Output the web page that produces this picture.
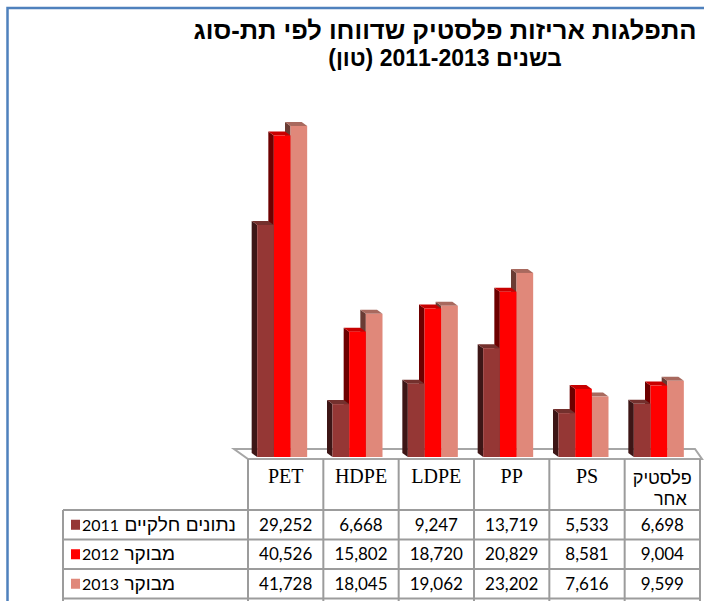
<!DOCTYPE html>
<html>
<head>
<meta charset="utf-8">
<script src="https://cdn.jsdelivr.net/npm/d3@7"></script>
<style>
  body { margin: 0; background: #fff; }
  svg { display: block; }
</style>
</head>
<body>
<div id="chart"></div>
<script>
// data
var titleLines = ['התפלגות אריזות פלסטיק שדווחו לפי תת-סוג', 'בשנים  2011-2013 (טון)']
var categories = ['PET', 'HDPE', 'LDPE', 'PP', 'PS', 'פלסטיק אחר']
var seriesNames = ['נתונים חלקיים 2011', 'מבוקר 2012', 'מבוקר 2013']
var values2011 = [29252, 6668, 9247, 13719, 5533, 6698]
var values2012 = [40526, 15802, 18720, 20829, 8581, 9004]
var values2013 = [41728, 18045, 19062, 23202, 7616, 9599]
var seriesValues = [values2011, values2012, values2013]

var colors = [
  { front: '#953735', side: '#3d1616', top: '#74302d' },
  { front: '#ff0000', side: '#6e0000', top: '#c80000' },
  { front: '#e0887a', side: '#6a3c34', top: '#a8695e' },
]

var width = 704
var height = 601
var base = 457
var depthX = -5.5
var depthY = -4

var svg = d3
  .select('#chart')
  .append('svg')
  .attr('width', width)
  .attr('height', height)

// blue frame (open to the right and bottom)
svg
  .append('path')
  .attr('d', 'M7.5,' + (height + 5) + ' L7.5,8 L' + (width + 5) + ',8')
  .attr('fill', 'none')
  .attr('stroke', '#4f81bd')
  .attr('stroke-width', 2.5)

// title
var titleSizes = [25.5, 23]
svg
  .selectAll('.title')
  .data(titleLines)
  .enter()
  .append('text')
  .attr('class', 'title')
  .attr('x', 445)
  .attr('y', function(d, i) {
    return 39 + i * 27
  })
  .attr('direction', 'rtl')
  .attr('text-anchor', 'middle')
  .style('font-family', '"Liberation Sans", "DejaVu Sans", sans-serif')
  .style('font-weight', 'bold')
  .style('font-size', function(d, i) {
    return titleSizes[i] + 'px'
  })
  .text(function(d) {
    return d
  })

var x = d3
  .scaleBand()
  .domain(categories)
  .range([248, 700])

var inner = d3
  .scaleBand()
  .domain(d3.range(seriesNames.length))
  .range([0, 50])

var y = d3
  .scaleLinear()
  .domain([0, 45000])
  .range([base, base - 357])

var groupOffset = (x.bandwidth() - 50) / 2 - 3.5

// floor
var floorFront = 459
var floorBack = 449
svg
  .append('path')
  .attr(
    'd',
    'M' + (x.range()[0] - 14) + ',' + floorBack +
      ' L' + (x.range()[1] - 5) + ',' + floorBack +
      ' L' + (x.range()[1] + 2) + ',' + floorFront +
      ' L' + x.range()[0] + ',' + floorFront + ' Z'
  )
  .attr('fill', '#fff')
  .attr('stroke', '#a6a6a6')
  .attr('stroke-width', 2)

// bars, drawn right to left so the left faces tuck behind
var bars = []
categories.forEach(function(cat, ci) {
  for (var s = seriesNames.length - 1; s >= 0; s--) {
    bars.push({ cat: cat, s: s, value: seriesValues[s][ci] })
  }
})

var barG = svg
  .selectAll('.bar')
  .data(bars)
  .enter()
  .append('g')
  .attr('class', 'bar')

function bx(d) {
  return x(d.cat) + groupOffset + inner(d.s)
}

barG
  .append('path')
  .attr('d', function(d) {
    var l = bx(d)
    var t = y(d.value)
    return 'M' + l + ',' + t + ' L' + (l + depthX) + ',' + (t + depthY) +
      ' L' + (l + depthX) + ',' + (base + depthY) + ' L' + l + ',' + base + ' Z'
  })
  .attr('fill', function(d) {
    return colors[d.s].side
  })

barG
  .append('path')
  .attr('d', function(d) {
    var l = bx(d)
    var r = l + inner.bandwidth()
    var t = y(d.value)
    return 'M' + l + ',' + t + ' L' + r + ',' + t + ' L' + (r + depthX) + ',' + (t + depthY) +
      ' L' + (l + depthX) + ',' + (t + depthY) + ' Z'
  })
  .attr('fill', function(d) {
    return colors[d.s].top
  })

barG
  .append('rect')
  .attr('x', bx)
  .attr('y', function(d) {
    return y(d.value)
  })
  .attr('width', inner.bandwidth())
  .attr('height', function(d) {
    return base - y(d.value)
  })
  .attr('fill', function(d) {
    return colors[d.s].front
  })

// table
var headerTop = 459
var rowTops = [510, 539.5, 569, 598.5]
var tableLeft = 63
var grid = svg.append('g').attr('stroke', '#9c9c9c').attr('stroke-width', 2)

var colEdges = categories.map(function(c) {
  return x(c)
})
colEdges.push(x.range()[1])

colEdges.forEach(function(cx) {
  grid
    .append('line')
    .attr('x1', cx)
    .attr('x2', cx)
    .attr('y1', headerTop)
    .attr('y2', height)
})
grid
  .append('line')
  .attr('x1', tableLeft)
  .attr('x2', tableLeft)
  .attr('y1', rowTops[0])
  .attr('y2', height)
rowTops.forEach(function(ry) {
  grid
    .append('line')
    .attr('x1', tableLeft)
    .attr('x2', x.range()[1])
    .attr('y1', ry)
    .attr('y2', ry)
})

// header labels
categories.forEach(function(cat, i) {
  var cx = x(cat) + x.bandwidth() / 2
  if (/[A-Z]/.test(cat)) {
    svg
      .append('text')
      .attr('x', cx)
      .attr('y', 483)
      .attr('text-anchor', 'middle')
      .style('font-family', '"Liberation Serif", "DejaVu Serif", serif')
      .style('font-size', '20px')
      .text(cat)
  } else {
    var words = cat.split(' ')
    words.forEach(function(w, wi) {
      svg
        .append('text')
        .attr('x', cx + wi * 8)
        .attr('y', 484 + wi * 21)
        .attr('direction', 'rtl')
        .attr('text-anchor', 'middle')
        .style('font-family', '"Liberation Sans", "DejaVu Sans", sans-serif')
        .style('font-size', '18px')
        .text(w)
    })
  }
})

// row labels with legend keys
seriesNames.forEach(function(name, s) {
  var mid = (rowTops[s] + rowTops[s + 1]) / 2
  svg
    .append('rect')
    .attr('x', 71)
    .attr('y', mid - 5)
    .attr('width', 9)
    .attr('height', 10)
    .attr('fill', colors[s].front)

  // hebrew words a bit larger than the year, as in the original
  var m = name.match(/^(.*?)(\d+)$/)
  var label = svg
    .append('text')
    .attr('x', 82)
    .attr('y', mid + 6)
    .attr('direction', 'rtl')
    .attr('text-anchor', 'end')
    .style('font-family', 'Lato, "Liberation Sans", "DejaVu Sans", sans-serif')
  label
    .append('tspan')
    .style('font-size', '19px')
    .style('font-family', '"Liberation Sans", "DejaVu Sans", sans-serif')
    .text(m[1])
  label
    .append('tspan')
    .style('font-size', '16px')
    .text(m[2])

  categories.forEach(function(cat, ci) {
    svg
      .append('text')
      .attr('x', x(cat) + x.bandwidth() / 2)
      .attr('y', mid + 6)
      .attr('text-anchor', 'middle')
      .style('font-family', 'Lato, "Liberation Sans", sans-serif')
      .style('font-size', '17px')
      .text(d3.format(',')(seriesValues[s][ci]))
  })
})
</script>
</body>
</html>
